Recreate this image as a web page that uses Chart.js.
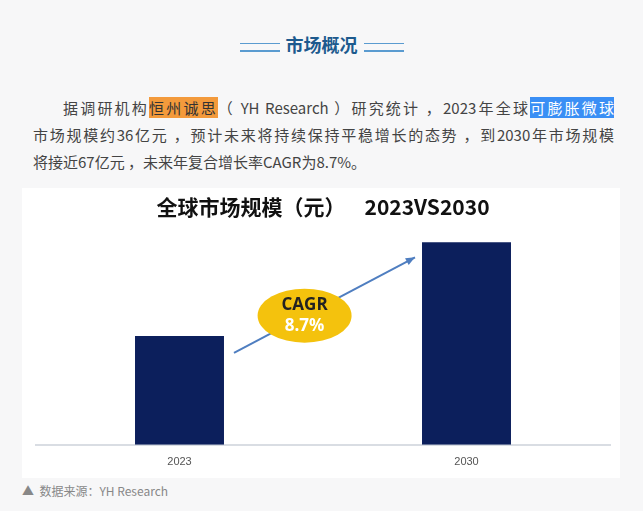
<!DOCTYPE html>
<html>
<head>
<meta charset="utf-8">
<script src="https://cdn.jsdelivr.net/npm/chart.js@4/dist/chart.umd.min.js"></script>
<style>
  body { margin:0; width:643px; height:511px; background:#f7f7f8; font-family:"Noto Sans CJK SC","Noto Sans",sans-serif; position:relative; overflow:hidden; }
  .head { position:absolute; top:31px; left:0; width:643px; text-align:center; color:#1d5a8e; font-weight:bold; font-size:18px; }
  .head .ln { display:inline-block; width:40px; height:6px; border-bottom:2px solid #5a9bd0; border-top:1px solid #5a9bd0; vertical-align:middle; margin:0 6px; }
  .txt { position:absolute; top:94px; left:33px; width:581px; font-size:15px; line-height:27px; color:#444; }
  .txt div { text-align:justify; text-align-last:justify; white-space:nowrap; }
  .txt div.last { text-align-last:left; }
  .or { background:#f39a3c; color:#333; }
  .bl { background:#3a8ff5; color:#fff; }
  #wrap { position:absolute; left:22px; top:188px; width:598px; height:290px; background:#fff; }
  .src { position:absolute; left:22px; top:482px; font-size:12px; color:#888; }
</style>
</head>
<body>
<div class="head"><span class="ln"></span>市场概况<span class="ln"></span></div>
<div class="txt">
  <div style="padding-left:30px">据调研机构<span class="or">恒州诚思</span>（ YH Research ）研究统计 ，2023年全球<span class="bl">可膨胀微球</span></div>
  <div>市场规模约36亿元 ，预计未来将持续保持平稳增长的态势 ，到2030年市场规模</div>
  <div class="last">将接近67亿元 ，未来年复合增长率CAGR为8.7%。</div>
</div>
<div id="wrap"><canvas id="c"></canvas></div>
<div class="src">▲&nbsp; 数据来源：YH Research</div>
<script>
// chart data
const years  = ['2023', '2030'];
const market = [36, 67];   // 亿元
const cagrLabel = ['CAGR', '8.7%'];

// arrow + CAGR badge between the two bars
const cagrPlugin = {
  id: 'cagr',
  afterDatasetsDraw(chart) {
    const ctx = chart.ctx;
    const bars = chart.getDatasetMeta(0).data;
    const a = bars[0], b = bars[1];
    const x1 = a.x + a.width / 2 + 10, y1 = a.y + 17;
    const x2 = b.x - b.width / 2 - 7, y2 = b.y + 15;
    ctx.save();
    ctx.strokeStyle = '#4f7ec0';
    ctx.fillStyle = '#4f7ec0';
    ctx.lineWidth = 2;
    ctx.beginPath(); ctx.moveTo(x1, y1); ctx.lineTo(x2, y2); ctx.stroke();
    const ang = Math.atan2(y2 - y1, x2 - x1);
    ctx.beginPath();
    ctx.moveTo(x2, y2);
    ctx.lineTo(x2 - 10 * Math.cos(ang - 0.4), y2 - 10 * Math.sin(ang - 0.4));
    ctx.lineTo(x2 - 10 * Math.cos(ang + 0.4), y2 - 10 * Math.sin(ang + 0.4));
    ctx.fill();
    const cx = x1 + (x2 - x1) * 0.39, cy = y1 + (y2 - y1) * 0.39;
    ctx.fillStyle = '#f4c20d';
    ctx.beginPath(); ctx.ellipse(cx, cy, 47, 27, 0, 0, Math.PI * 2); ctx.fill();
    ctx.textAlign = 'center'; ctx.textBaseline = 'middle';
    ctx.font = 'bold 17px "Open Sans", sans-serif';
    ctx.fillStyle = '#222'; ctx.fillText(cagrLabel[0], cx, cy - 10);
    ctx.fillStyle = '#fff'; ctx.fillText(cagrLabel[1], cx, cy + 11);
    ctx.restore();
  }
};

new Chart(document.getElementById('c'), {
  type: 'bar',
  data: {
    labels: years,
    datasets: [{ data: market, backgroundColor: '#0c1f5c', barPercentage: 0.31, categoryPercentage: 1 }]
  },
  options: {
    responsive: true,
    maintainAspectRatio: false,
    animation: false,
    layout: { padding: { left: 14, right: 10, top: 2, bottom: 6 } },
    plugins: {
      legend: { display: false },
      tooltip: { enabled: false },
      title: {
        display: true,
        text: '全球市场规模（元）    2023VS2030',
        color: '#111',
        font: { size: 21, weight: 'bold', family: '"Noto Sans CJK SC", sans-serif' },
        padding: { top: 4, bottom: 14 }
      }
    },
    scales: {
      y: { display: false, min: 0, max: 70 },
      x: {
        grid: { display: false },
        border: { color: '#d9dde3', width: 2 },
        ticks: { color: '#555', font: { size: 11 } }
      }
    }
  },
  plugins: [cagrPlugin]
});
</script>
</body>
</html>
